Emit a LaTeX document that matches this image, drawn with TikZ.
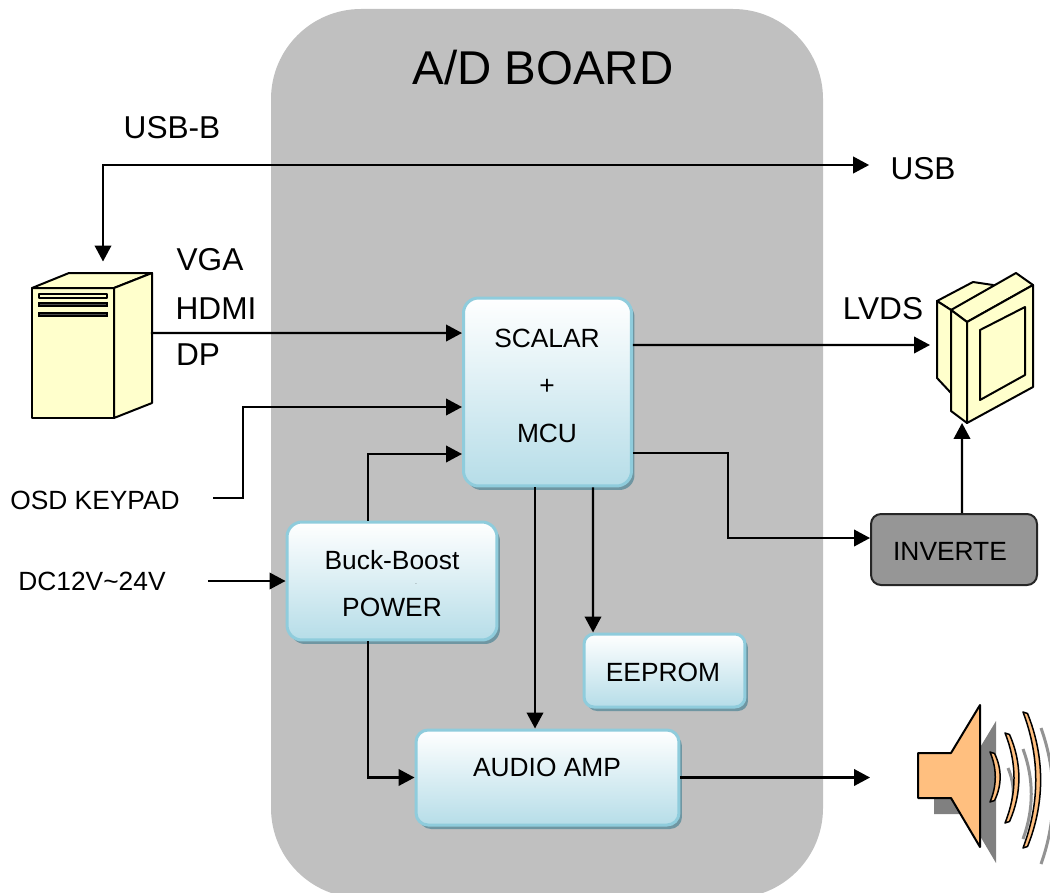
\documentclass[tikz,border=0pt]{standalone}
\usepackage{fontspec}
\setmainfont{Liberation Sans}
\usetikzlibrary{arrows.meta,shadows,calc}
\definecolor{boardgray}{HTML}{C0C0C0}
\definecolor{pcyellow}{HTML}{FFFFCC}
\definecolor{boxedge}{HTML}{8FCCDC}
\definecolor{boxlow}{HTML}{B6DDE8}
\definecolor{boxshade}{HTML}{6F96A2}
\definecolor{spkorange}{HTML}{FFBF7F}
\definecolor{spkshade}{HTML}{808080}
\tikzstyle{box}=[rectangle,rounded corners=0.3cm,top color=white,bottom color=boxlow,draw=boxedge,line width=0.06cm,inner sep=0pt,anchor=center,drop shadow={shadow xshift=0.06cm,shadow yshift=-0.08cm,fill=boxshade,opacity=1}]
\tikzstyle{annot}=[align=center,inner sep=0pt,font=\fontsize{15}{18}\selectfont]
\tikzstyle{annotbig}=[annot,font=\fontsize{18}{22}\selectfont]
\tikzstyle{icon}=[rectangle,inner sep=0pt,outer sep=0pt]
\tikzstyle{part}=[draw=black,line width=0.04cm,line join=round,fill=pcyellow]
\tikzstyle{sig}=[draw=black,line width=0.045cm,-{Triangle[length=0.32cm,width=0.33cm]}]
\newcommand{\drawpc}[0]
{
  \fill[pcyellow] (32,288) -- (69,273) -- (152,273) -- (152,403) -- (114,418) -- (32,418) -- cycle;
  \draw[part] (32,288) -- (114,288) -- (114,418) -- (32,418) -- cycle;
  \draw[part] (32,288) -- (69,273) -- (152,273) -- (114,288) -- cycle;
  \draw[part] (114,288) -- (152,273) -- (152,403) -- (114,418) -- cycle;
  \draw[part,line width=0.03cm] (39,294) rectangle (107,298);
  \draw[black,line width=0.03cm,fill=black!70] (39,303) rectangle (107,306);
  \draw[black,line width=0.03cm,fill=black!70] (39,313) rectangle (107,316);
}
\newcommand{\drawmonitor}[0]
{
  \draw[part] (937,301) -- (973,282) -- (993,285) -- (985,300) -- (951,310) -- cycle;
  \draw[part] (937,301) -- (951,310) -- (951,393) -- (937,378) -- cycle;
  \draw[part] (951,310) -- (1016,273) -- (1033,285) -- (967,322) -- cycle;
  \draw[part] (951,310) -- (967,322) -- (967,423) -- (951,411) -- cycle;
  \draw[part] (967,322) -- (1033,285) -- (1033,387) -- (967,423) -- cycle;
  \draw[part] (980,330) -- (1025,307) -- (1025,375) -- (980,400) -- cycle;
}
\newcommand{\drawspeaker}[0]
{
  % shadow first
  \fill[spkshade] (934,769) -- (967,769) -- (996,721) -- (996,863) -- (967,814) -- (934,814) -- cycle;
  \foreach \xa/\xb/\ya/\yb in {1008/1015/768/818,1023/1034/749/839,1041/1057/728/864}
    \draw[spkshade!85,line width=0.06cm] (\xa,\ya) .. controls (\xb,{\ya+0.33*(\yb-\ya)}) and (\xb,{\ya+0.67*(\yb-\ya)}) .. (\xa,\yb);
  \draw[part,fill=spkorange] (918,753) -- (951,753) -- (980,705) -- (980,847) -- (951,798) -- (918,798) -- cycle;
  \foreach \xa/\xb/\ya/\yb in {990/997/752/802,1005/1017/733/823,1023/1040/712/848}
    \draw[part,fill=spkorange,line width=0.03cm] (\xa,\ya) .. controls (\xb,{\ya+0.33*(\yb-\ya)}) and (\xb,{\ya+0.67*(\yb-\ya)}) .. (\xa,\yb) -- ++(4.5,-1.5) .. controls (\xb+5,{\ya+0.67*(\yb-\ya)}) and (\xb+5,{\ya+0.33*(\yb-\ya)}) .. (\xa+4.5,\ya+1.5) -- cycle;
}

\begin{document}
\begin{tikzpicture}[x=0.02cm,y=-0.02cm]
	\useasboundingbox (0,0) rectangle (1050,892);

	\begin{scope}
		\clip (0,0) rectangle (1050,892);
		\fill[boardgray,rounded corners=1.8cm] (271,9) rectangle (823,898);
	\end{scope}
	\node[annot,font=\fontsize{27}{32}\selectfont](boardlabel) at (543,68){A/D BOARD};

	\drawpc{}
	\drawmonitor{}
	\drawspeaker{}
	\node[icon, minimum width=2.4cm, minimum height=2.9cm](pc) at (92,345){};
	\node[icon, minimum width=1.92cm, minimum height=3cm](monitor) at (985,348){};
	\node[icon, minimum width=2.64cm, minimum height=2.84cm](speaker) at (984,777.5){};

	\node[box, minimum width=3.36cm, minimum height=3.76cm](scalar) at (547.5,392){};
	\node[box, minimum width=4.2cm, minimum height=2.36cm](buck) at (392,581){};
	\node[box, minimum width=3.22cm, minimum height=1.46cm, rounded corners=0.2cm](eeprom) at (664.5,670.5){};
	\node[box, minimum width=5.26cm, minimum height=1.9cm, rounded corners=0.24cm](audio) at (547.5,777.5){};
	\node[rectangle, rounded corners=0.2cm, fill=black!41, draw=black!85, line width=0.04cm, minimum width=3.32cm, minimum height=1.42cm](inverter) at (954,549.5){};

	\node[annot](scalartxta) at (547,338){SCALAR};
	\node[annot](scalartxtb) at (547,387){+};
	\node[annot](scalartxtc) at (547,433){MCU};
	\node[annot](bucktxta) at (392,560){Buck-Boost};
	\node[annot,font=\fontsize{3}{4}\selectfont](bucktxtb) at (416,584){.};
	\node[annot](bucktxtc) at (392,607){POWER};
	\node[annot](eepromtxt) at (663,672){EEPROM};
	\node[annot](audiotxt) at (547,767){AUDIO AMP};
	\node[annot](invertertxt) at (950,551){INVERTE};

	\node[annotbig](usbb) at (172,128){USB-B};
	\node[annotbig](usb) at (923,169){USB};
	\node[annotbig](vga) at (210,260){VGA};
	\node[annotbig](hdmi) at (216,309){HDMI};
	\node[annotbig](dp) at (198,355){DP};
	\node[annotbig](lvds) at (883,309){LVDS};
	\node[annot](osd) at (95,500){OSD KEYPAD};
	\node[annot](dc) at (92,581){DC12V\textasciitilde24V};

	\draw[sig,{Triangle[length=0.32cm,width=0.33cm]}-{Triangle[length=0.32cm,width=0.33cm]}] ([xshift=0.22cm,yshift=0.22cm]pc.north) |- ([xshift=-0.42cm,yshift=0.08cm]usb.west);
	\draw[sig] ([xshift=-0.02cm,yshift=0.24cm]pc.east) -- ([yshift=1.18cm]scalar.west);
	\draw[sig] ([xshift=0.66cm,yshift=0.04cm]osd.east) -- ++(30,0) |- ([yshift=-0.3cm]scalar.west);
	\draw[sig] ([xshift=-0.48cm]buck.north) |- ([yshift=-1.24cm]scalar.west);
	\draw[sig] ([xshift=0.84cm]dc.east) -- (buck.west);
	\draw[sig] ([yshift=0.94cm]scalar.east) -- ([xshift=-0.14cm,yshift=0.06cm]monitor.west);
	\draw[sig] ([yshift=-1.22cm]scalar.east) -- ++(95,0) |- ([yshift=0.23cm]inverter.west);
	\draw[sig] ([xshift=0.16cm]inverter.north) -- ([xshift=-0.46cm]monitor.south);
	\draw[sig] ([xshift=-0.25cm]scalar.south) -- ([xshift=-0.25cm]audio.north);
	\draw[sig] ([xshift=0.91cm]scalar.south) -- ([xshift=-1.43cm]eeprom.north);
	\draw[sig] ([xshift=-0.48cm]buck.south) |- (audio.west);
	\draw[sig] (audio.east) -- ([xshift=-0.96cm]speaker.west);

\end{tikzpicture}
\end{document}
